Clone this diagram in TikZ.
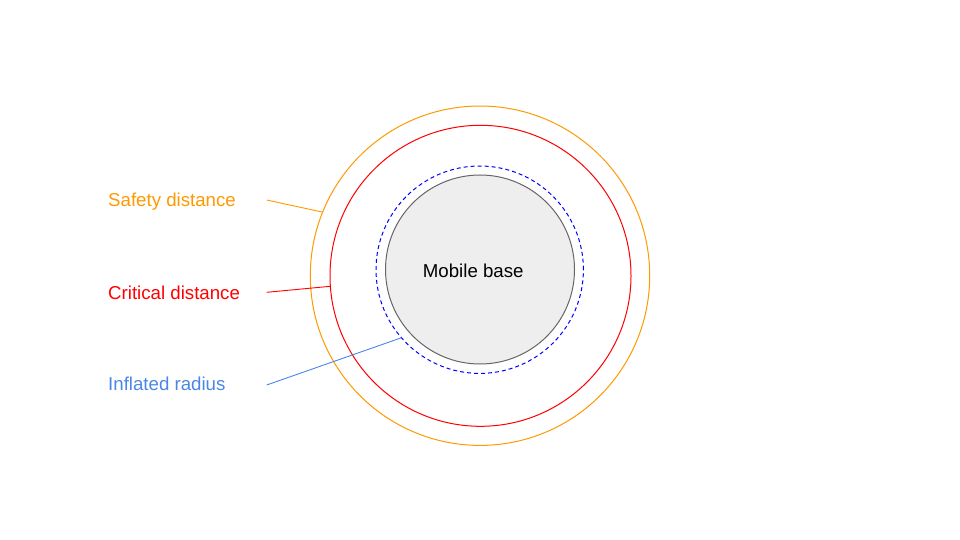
\documentclass[tikz,border=0pt]{standalone}
\usepackage{fontspec}
\setmainfont{Liberation Sans}
\definecolor{safetyc}{HTML}{FF9900}
\definecolor{criticalc}{HTML}{FF0000}
\definecolor{inflatedc}{HTML}{0000FF}
\definecolor{labelblue}{HTML}{4A86E8}
\definecolor{basefill}{HTML}{EEEEEE}
\definecolor{baseline}{HTML}{666666}
\begin{document}
\begin{tikzpicture}[x=1pt,y=-1pt,
  ring/.style={circle,draw,inner sep=0pt,outer sep=0pt,line width=1pt},
  lbl/.style={anchor=base west,inner sep=0pt,font=\fontsize{18.67}{22}\selectfont},
  leader/.style={line width=0.9pt}]
  \useasboundingbox (0,0) rectangle (960,540);
  % zones around the robot
  \node[ring,draw=safetyc,minimum size=339.4pt] (safety) at (480,275.7) {};
  \node[ring,draw=criticalc,minimum size=301pt] (critical) at (480.5,275.8) {};
  \node[ring,draw=inflatedc,dash pattern=on 4pt off 3pt,minimum size=207.4pt] (inflated) at (479.7,269.7) {};
  \node[ring,draw=baseline,fill=basefill,minimum size=189pt,
        font=\fontsize{18.67}{22}\selectfont] (base) at (480,269.5) {};
  \node[lbl,text=black] (basetxt) at (422.7,277) {Mobile base};
  % labels
  \node[lbl,text=safetyc] (safetylbl) at (108,206.7) {Safety distance};
  \node[lbl,text=criticalc] (criticallbl) at (108,299) {Critical distance};
  \node[lbl,text=labelblue] (inflatedlbl) at (108,390.7) {Inflated radius};
  % leader lines
  \coordinate (safetyfoot) at (266.7,200);
  \coordinate (criticalfoot) at (266.7,292.3);
  \coordinate (inflatedfoot) at (266.7,385);
  \draw[leader,safetyc] (safetyfoot) -- (safety.158.3);
  \draw[leader,criticalc] (criticalfoot) -- (critical.184.7);
  \draw[leader,labelblue] (inflatedfoot) -- (inflated.221.7);
\end{tikzpicture}
\end{document}
